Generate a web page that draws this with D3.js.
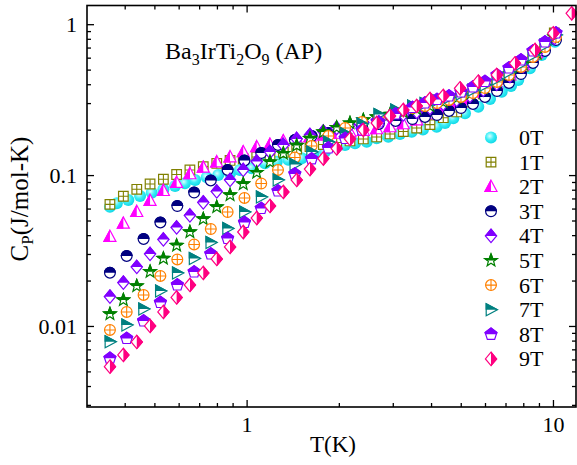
<!DOCTYPE html>
<html><head><meta charset="utf-8">
<script src="https://cdn.jsdelivr.net/npm/d3@7/dist/d3.min.js"></script>
<style>
body{margin:0;background:#fff;}
svg text{font-family:"Liberation Serif","Times New Roman",serif;fill:#000;}
</style></head><body>
<svg id="chart" width="577" height="465"></svg>
<script>
// ---------------- data ----------------
const fieldLabels = ["0T","1T","2T","3T","4T","5T","6T","7T","8T","9T"];

// temperatures (K)
const temp0 = [0.358,0.377,0.411,0.449,0.490,0.535,0.584,0.629,0.679,0.741,0.808,0.883,0.951,1.039,1.148,1.254,1.368,1.513,1.651,1.803,1.968,2.095,2.259,2.466,2.658,2.901,3.167,3.459,3.764,4.173,4.442,4.727,5.163,5.705,6.230,6.803,7.296,7.705,8.411,9.186,10.15];
const tempA = [0.358,0.396,0.438,0.484,0.535,0.591,0.653,0.722,0.799,0.883,0.975,1.079,1.192,1.318,1.457,1.610,1.780,1.968,2.175,2.404,2.658,2.938,3.247,3.591,3.968,4.385,4.850,5.360,5.923,6.552,7.239,8.000,8.848,10.1];
const tempB = [0.358,0.406,0.461,0.523,0.594,0.674,0.764,0.867,0.984,1.116,1.266,1.437,1.630,1.849,2.098,2.380,2.701,3.064,3.477,3.821,4.183,4.577,5.009,5.482,5.999,6.566,7.185,7.863,8.605,9.417,10.23];
const temp9 = [0.358,0.396,0.438,0.484,0.535,0.591,0.653,0.722,0.799,0.883,0.975,1.079,1.192,1.318,1.457,1.610,1.780,1.968,2.175,2.404,2.658,2.938,3.247,3.591,3.968,4.385,4.972,5.705,6.552,7.516,8.738,10.02,11.51];

// heat capacity Cp (J/mol-K)
const cp0T = [0.0617,0.0650,0.0684,0.0727,0.0764,0.0805,0.0847,0.0883,0.0928,0.0967,0.1002,0.1028,0.1081,0.1110,0.1197,0.1227,0.1262,0.1292,0.1359,0.1429,0.1543,0.1583,0.1624,0.1665,0.1754,0.1797,0.1873,0.1940,0.2005,0.2093,0.2214,0.2378,0.2567,0.2840,0.3193,0.3569,0.3895,0.4268,0.5103,0.6251,0.7657];
const cp1T = [0.0640,0.0724,0.0805,0.0873,0.0938,0.1009,0.1081,0.1137,0.1194,0.1250,0.1279,0.1318,0.1359,0.1412,0.1489,0.1547,0.1595,0.1644,0.1683,0.1735,0.1789,0.1873,0.1945,0.2051,0.216,0.240,0.262,0.305,0.345,0.392,0.455,0.525,0.630,0.874];
const cp2T = [0.0391,0.0479,0.0572,0.0677,0.0788,0.0891,0.1017,0.1126,0.1221,0.1318,0.1423,0.1536,0.1595,0.1683,0.1735,0.1789,0.1844,0.1887,0.1931,0.1975,0.2021,0.2084,0.2182,0.2318,0.2541,0.2784,0.2960,0.3193,0.3553,0.4017,0.4606,0.5367,0.6446,0.848];
const cp3T = [0.02255,0.02911,0.03772,0.04852,0.06240,0.07667,0.09209,0.1081,0.1250,0.1401,0.1583,0.1709,0.1816,0.1901,0.1990,0.2084,0.2182,0.2284,0.2353,0.2427,0.2502,0.2660,0.2784,0.2960,0.3293,0.3608,0.4079,0.4677,0.5534,0.6646,0.7858];
const cp4T = [0.01564,0.01936,0.02460,0.03000,0.03743,0.04495,0.05398,0.06585,0.07787,0.09279,0.1081,0.1231,0.1423,0.1583,0.1735,0.1844,0.1945,0.2051,0.2148,0.2232,0.2318,0.2427,0.2521,0.2619,0.2784,0.2960,0.3146,0.3344,0.3664,0.4017,0.4536,0.5284,0.6344,0.810];
const cp5T = [0.01201,0.01487,0.01841,0.02290,0.02802,0.03416,0.04196,0.05117,0.06146,0.07380,0.0873,0.1040,0.1221,0.1390,0.1571,0.1748,0.1931,0.2067,0.2214,0.2318,0.2427,0.2521,0.2619,0.2742,0.2870,0.3050,0.3243,0.3446,0.3777,0.4140,0.4677,0.5450,0.6446,0.823];
const cp6T = [0.009408,0.01238,0.01605,0.02145,0.02759,0.03469,0.04393,0.05694,0.07051,0.08796,0.1081,0.1308,0.1559,0.1816,0.2051,0.2248,0.2427,0.2599,0.2784,0.2870,0.3004,0.3146,0.3293,0.3499,0.3777,0.4140,0.4606,0.5205,0.6063,0.7063,0.8226];
const cp7T = [0.007870,0.01015,0.01296,0.01706,0.02245,0.02802,0.03576,0.04427,0.05694,0.07160,0.09279,0.1175,0.1423,0.1657,0.1887,0.2182,0.2521,0.2700,0.2870,0.2982,0.3121,0.3268,0.3446,0.3664,0.3956,0.4334,0.4823,0.5450,0.6251,0.7281,0.8481];
const cp8T = [0.006107,0.008265,0.01079,0.01431,0.01869,0.02280,0.03000,0.03801,0.04852,0.06007,0.07844,0.1017,0.1279,0.1512,0.1748,0.1990,0.2248,0.2541,0.2805,0.3004,0.3170,0.3344,0.3553,0.3836,0.4172,0.4606,0.5126,0.5792,0.6646,0.7621,0.8744];
const cp9T = [0.005374,0.006424,0.007834,0.01000,0.01238,0.01545,0.01869,0.02245,0.02780,0.03338,0.04196,0.05195,0.06240,0.07727,0.09279,0.1097,0.1288,0.1501,0.1735,0.1990,0.2214,0.2464,0.2700,0.2870,0.3193,0.3344,0.3760,0.4159,0.4606,0.5508,0.6745,0.8705,1.181];

// axis ticks
const xMajor = [1,10];
const xMinor = [0.4,0.5,0.6,0.7,0.8,0.9,2,3,4,5,6,7,8,9];
const yMajor = [0.01,0.1,1];
const yMinor = [0.003,0.004,0.005,0.006,0.007,0.008,0.009,0.02,0.03,0.04,0.05,0.06,0.07,0.08,0.09,0.2,0.3,0.4,0.5,0.6,0.7,0.8,0.9];
const xTitle = "T(K)";
const titleParts = [["Ba",false],["3",true],["IrTi",false],["2",true],["O",false],["9",true],[" (AP)",false]];

// ---------------- chart ----------------
const svg = d3.select("#chart");
const L = 87, R = 576, TOP = 5.5, BOT = 407;
const x = d3.scaleLog().domain([0.3013, 11.98]).range([L, 577]);
const y = d3.scaleLog().domain([0.002904, 1.330]).range([BOT, TOP]);

const series = [
  {T: temp0, C: cp0T, color: "#00E5EE", shape: "ball", fill: "full"},
  {T: tempA, C: cp1T, color: "#808000", shape: "squarePlus", fill: "none"},
  {T: tempA, C: cp2T, color: "#FF00FF", shape: "triUp", fill: "left"},
  {T: tempB, C: cp3T, color: "#000080", shape: "circle", fill: "top"},
  {T: tempA, C: cp4T, color: "#8000FF", shape: "diamond", fill: "top"},
  {T: tempA, C: cp5T, color: "#008000", shape: "star", fill: "top"},
  {T: tempB, C: cp6T, color: "#FF8000", shape: "circlePlus", fill: "none"},
  {T: tempB, C: cp7T, color: "#008080", shape: "triRight", fill: "top"},
  {T: tempB, C: cp8T, color: "#8000FF", shape: "pentagon", fill: "top"},
  {T: temp9, C: cp9T, color: "#FF0080", shape: "diamond", fill: "right"}
];

const defs = svg.append("defs");
const grad = defs.append("radialGradient").attr("id","ballGrad").attr("cx","40%").attr("cy","38%").attr("r","62%");
grad.append("stop").attr("offset","0%").attr("stop-color","#d8ffff");
grad.append("stop").attr("offset","55%").attr("stop-color","#38eef6");
grad.append("stop").attr("offset","100%").attr("stop-color","#12d8e6");
defs.append("clipPath").attr("id","clip-top").append("rect").attr("x",-10).attr("y",-10).attr("width",20).attr("height",10);
defs.append("clipPath").attr("id","clip-left").append("rect").attr("x",-10).attr("y",-10).attr("width",10).attr("height",20);
defs.append("clipPath").attr("id","clip-right").append("rect").attr("x",0).attr("y",-10).attr("width",10).attr("height",20);

function polyPath(n, r, rot){
  const pts = [];
  for (let i = 0; i < n; i++){ const a = rot + i*2*Math.PI/n; pts.push([r*Math.cos(a), r*Math.sin(a)]); }
  return "M" + pts.map(p => p[0].toFixed(2)+","+p[1].toFixed(2)).join("L") + "Z";
}
function starPath(ro, ri){
  const pts = [];
  for (let i = 0; i < 10; i++){ const r = i%2 ? ri : ro; const a = -Math.PI/2 + i*Math.PI/5; pts.push([r*Math.cos(a), r*Math.sin(a)]); }
  return "M" + pts.map(p => p[0].toFixed(2)+","+p[1].toFixed(2)).join("L") + "Z";
}
function shapePath(shape){
  switch(shape){
    case "circle": case "circlePlus": return "M5.4,0A5.4,5.4 0 1,1 -5.4,0A5.4,5.4 0 1,1 5.4,0Z";
    case "squarePlus": return "M-4.8,-4.8H4.8V4.8H-4.8Z";
    case "triUp": return "M0,-6.4L6,4.8L-6,4.8Z";
    case "diamond": return "M0,-6.7L5.6,0L0,6.7L-5.6,0Z";
    case "star": return starPath(6.6, 2.8);
    case "triRight": return "M-4.8,-6L6.4,0L-4.8,6Z";
    case "pentagon": return polyPath(5, 6.2, -Math.PI/2);
  }
  return "";
}
function drawMarker(g, s){
  if (s.shape === "ball"){ g.append("circle").attr("r",6).attr("fill","url(#ballGrad)"); return; }
  const p = shapePath(s.shape);
  g.append("path").attr("d",p).attr("fill","#fff").attr("stroke",s.color).attr("stroke-width",1.2);
  if (s.fill === "top" || s.fill === "left" || s.fill === "right")
    g.append("path").attr("d",p).attr("fill",s.color).attr("stroke",s.color).attr("stroke-width",1.2).attr("clip-path","url(#clip-"+s.fill+")");
  if (s.shape === "squarePlus" || s.shape === "circlePlus"){
    const k = s.shape === "squarePlus" ? 4.8 : 5.4;
    g.append("path").attr("d",`M${-k},0H${k}M0,${-k}V${k}`).attr("stroke",s.color).attr("stroke-width",1.1);
  }
}

// data points
const plot = svg.append("g");
series.forEach(s => {
  const pts = s.T.map((t,i) => [t, s.C[i]]);
  plot.append("g").selectAll("g").data(pts).join("g")
    .attr("transform", d => `translate(${x(d[0])},${y(d[1])})`)
    .each(function(){ drawMarker(d3.select(this), s); });
});

// frame
svg.append("rect").attr("x",L).attr("y",TOP).attr("width",R-L).attr("height",BOT-TOP)
  .attr("fill","none").attr("stroke","#000").attr("stroke-width",1.6);

const fontSize = "22px";
function styleAxis(g){ g.select(".domain").remove(); g.selectAll("line").attr("stroke","#000").attr("stroke-width",1.3); g.selectAll("text").style("font-size",fontSize).style("font-family","'Liberation Serif','Times New Roman',serif"); }

svg.append("g").attr("transform",`translate(0,${BOT})`)
  .call(d3.axisBottom(x).tickValues(xMajor).tickSizeInner(-7).tickSizeOuter(0).tickPadding(9).tickFormat(d3.format("d"))).call(styleAxis);
svg.append("g").attr("transform",`translate(0,${BOT})`)
  .call(d3.axisBottom(x).tickValues(xMinor).tickSizeInner(-4).tickSizeOuter(0).tickFormat("")).call(styleAxis);
svg.append("g").attr("transform",`translate(0,${TOP})`)
  .call(d3.axisTop(x).tickValues(xMajor).tickSizeInner(-7).tickSizeOuter(0).tickFormat("")).call(styleAxis);
svg.append("g").attr("transform",`translate(0,${TOP})`)
  .call(d3.axisTop(x).tickValues(xMinor).tickSizeInner(-4).tickSizeOuter(0).tickFormat("")).call(styleAxis);

svg.append("g").attr("transform",`translate(${L},0)`)
  .call(d3.axisLeft(y).tickValues(yMajor).tickSizeInner(-7).tickSizeOuter(0).tickPadding(10).tickFormat(d => String(d))).call(styleAxis);
svg.append("g").attr("transform",`translate(${L},0)`)
  .call(d3.axisLeft(y).tickValues(yMinor).tickSizeInner(-4).tickSizeOuter(0).tickFormat("")).call(styleAxis);
svg.append("g").attr("transform",`translate(${R},0)`)
  .call(d3.axisRight(y).tickValues(yMajor).tickSizeInner(-7).tickSizeOuter(0).tickFormat("")).call(styleAxis);
svg.append("g").attr("transform",`translate(${R},0)`)
  .call(d3.axisRight(y).tickValues(yMinor).tickSizeInner(-4).tickSizeOuter(0).tickFormat("")).call(styleAxis);

// axis titles
svg.append("text").attr("x",333).attr("y",452).attr("text-anchor","middle").style("font-size","23px").text(xTitle);
const yl = svg.append("text").attr("transform","translate(28,199) rotate(-90)").attr("text-anchor","middle").style("font-size","25px");
yl.append("tspan").text("C");
yl.append("tspan").attr("dy",5).style("font-size","17px").text("P");
yl.append("tspan").attr("dy",-5).text("(J/mol-K)");

// title
const tt = svg.append("text").attr("x",165).attr("y",59).style("font-size","24px");
let prevSub = false;
titleParts.forEach(([txt, sub]) => {
  const sp = tt.append("tspan").text(txt);
  if (sub) sp.style("font-size","16px");
  if (sub !== prevSub) sp.attr("dy", sub ? 6 : -6);
  prevSub = sub;
});

// legend
const lg = svg.append("g");
fieldLabels.forEach((lab, i) => {
  const yy = 137.5 + i*24.6;
  const g = lg.append("g").attr("transform",`translate(491,${yy})`);
  drawMarker(g, series[i]);
  lg.append("text").attr("x",519).attr("y",yy+7.5).style("font-size","22px").text(lab);
});
</script>
</body></html>
